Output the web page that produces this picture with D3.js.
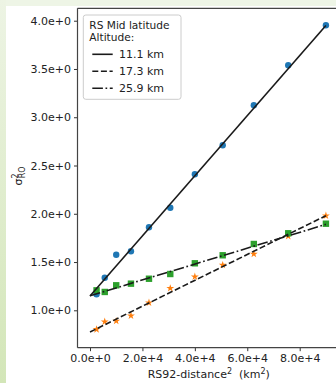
<!DOCTYPE html>
<html><head><meta charset="utf-8">
<script src="https://cdn.jsdelivr.net/npm/d3@7"></script>
<style>body{margin:0;padding:0;overflow:hidden;background:#fff}svg{display:block}text{font-family:"DejaVu Sans",sans-serif}</style>
</head><body>
<svg id="c" width="336" height="383"></svg>
<script>
// data
const distSq = [2500, 5625, 10000, 15625, 22500, 30625, 40000, 50625, 62500, 75625, 90000];
const alt111 = [1.166, 1.338, 1.576, 1.611, 1.860, 2.063, 2.409, 2.710, 3.124, 3.539, 3.953];
const alt173 = [0.803, 0.882, 0.889, 0.944, 1.079, 1.228, 1.348, 1.469, 1.583, 1.767, 1.980];
const alt259 = [1.207, 1.190, 1.259, 1.276, 1.327, 1.376, 1.487, 1.570, 1.687, 1.798, 1.897];
const fitX = [0, 90000];
const fit111 = [1.148, 3.950];
const fit173 = [0.775, 1.980];
const fit259 = [1.150, 1.890];
const xTicks = [0, 20000, 40000, 60000, 80000];
const xTickLabels = ["0.0e+0", "2.0e+4", "4.0e+4", "6.0e+4", "8.0e+4"];
const yTicks = [1.0, 1.5, 2.0, 2.5, 3.0, 3.5, 4.0];
const yTickLabels = ["1.0e+0", "1.5e+0", "2.0e+0", "2.5e+0", "3.0e+0", "3.5e+0", "4.0e+0"];
const legendTitle = ["RS Mid latitude", "Altitude:"];
const legendLabels = ["11.1 km", "17.3 km", "25.9 km"];

const svg = d3.select("#c");
// figure background
const defs = svg.append("defs");
const g1 = defs.append("linearGradient").attr("id","lg").attr("x1",0).attr("y1",0).attr("x2",0).attr("y2",1);
g1.append("stop").attr("offset","0").attr("stop-color","#edf4e4");
g1.append("stop").attr("offset","1").attr("stop-color","#d3e6b8");
svg.append("rect").attr("x",0).attr("y",0).attr("width",336).attr("height",383).attr("fill","#eef5e6");
svg.append("rect").attr("x",0).attr("y",0).attr("width",6).attr("height",383).attr("fill","url(#lg)");
svg.append("rect").attr("x",6).attr("y",6).attr("width",330).attr("height",377).attr("fill","#ffffff");

const L = 77.5, T = 8.3, B = 347.7, R = 340;
const x = d3.scaleLinear().domain([-4769, 95374]).range([L, R]);
const y = d3.scaleLinear().domain([0.6126, 4.1285]).range([B, T]);

// axes
const xAxis = d3.axisBottom(x).tickValues(xTicks).tickFormat((d,i)=>xTickLabels[i]).tickSize(3.5).tickPadding(3);
const yAxis = d3.axisLeft(y).tickValues(yTicks).tickFormat((d,i)=>yTickLabels[i]).tickSize(3.5).tickPadding(3);
const gx = svg.append("g").attr("transform",`translate(0,${B})`).call(xAxis);
const gy = svg.append("g").attr("transform",`translate(${L},0)`).call(yAxis);
[gx,gy].forEach(g=>{
  g.select(".domain").remove();
  g.selectAll(".tick line").attr("stroke","#333").attr("stroke-width",1);
  g.selectAll(".tick text").attr("fill","#222").style("font-size","11px").style("font-family","DejaVu Sans");
});
// spines
svg.append("line").attr("x1",L).attr("x2",L).attr("y1",T).attr("y2",B).attr("stroke","#444").attr("stroke-width",1.2);
svg.append("line").attr("x1",L).attr("x2",R).attr("y1",B).attr("y2",B).attr("stroke","#444").attr("stroke-width",1.2);
svg.append("line").attr("x1",L).attr("x2",R).attr("y1",T).attr("y2",T).attr("stroke","#444").attr("stroke-width",1.2);

// markers
const plot = svg.append("g");
plot.selectAll("circle.b").data(distSq).join("circle").attr("class","b")
  .attr("cx",d=>x(d)).attr("cy",(d,i)=>y(alt111[i])).attr("r",3.2).attr("fill","#1f77b4");
plot.selectAll("path.o").data(distSq).join("path").attr("class","o")
  .attr("d",d3.symbol(d3.symbolStar, 19)).attr("transform",(d,i)=>`translate(${x(d)},${y(alt173[i])})`).attr("fill","#ff7f0e");
plot.selectAll("rect.g").data(distSq).join("rect").attr("class","g")
  .attr("x",d=>x(d)-3.2).attr("y",(d,i)=>y(alt259[i])-3.2).attr("width",6.4).attr("height",6.4).attr("fill","#2ca02c");

// fit lines
const line = d3.line().x((d)=>x(d[0])).y(d=>y(d[1]));
const fits = [
  {v: fit111, dash: null},
  {v: fit173, dash: "6,2.6"},
  {v: fit259, dash: "10.6,2.6,1.7,2.6"}
];
fits.forEach(f=>{
  plot.append("path").attr("d", line(fitX.map((xx,i)=>[xx,f.v[i]])))
    .attr("fill","none").attr("stroke","#1a1a1a").attr("stroke-width",1.6)
    .attr("stroke-dasharray", f.dash);
});

// legend
const lg = svg.append("g");
lg.append("rect").attr("x",83.3).attr("y",15).attr("width",97.7).attr("height",84.3).attr("rx",2.5)
  .attr("fill","#fff").attr("fill-opacity",0.85).attr("stroke","#cccccc").attr("stroke-width",1);
legendTitle.forEach((t,i)=>{
  lg.append("text").attr("x",89.3).attr("y",24.8+i*12).attr("dy","0.36em").style("font-size","10.6px").attr("fill","#222").text(t);
});
const ly = [54.3, 71.2, 88.3];
legendLabels.forEach((t,i)=>{
  lg.append("line").attr("x1",92.3).attr("x2",112.7).attr("y1",ly[i]).attr("y2",ly[i])
    .attr("stroke","#1a1a1a").attr("stroke-width",1.6).attr("stroke-dasharray",fits[i].dash);
  lg.append("text").attr("x",119).attr("y",ly[i]).attr("dy","0.36em").style("font-size","11px").attr("fill","#222").text(t);
});

// axis labels
const xl = svg.append("text").attr("x",(L+R)/2).attr("y",378).attr("text-anchor","middle").style("font-size","11px").attr("fill","#222");
xl.append("tspan").text("RS92-distance");
xl.append("tspan").attr("dy",-4).style("font-size","8px").text("2");
xl.append("tspan").attr("dy",4).text("\u00a0\u00a0(km");
xl.append("tspan").attr("dy",-4).style("font-size","8px").text("2");
xl.append("tspan").attr("dy",4).text(")");

const yl = svg.append("text").attr("transform","translate(22,176) rotate(-90)").attr("text-anchor","middle").style("font-size","11px").attr("fill","#222");
yl.append("tspan").text("σ");
yl.append("tspan").attr("dy",-4.5).style("font-size","8px").text("2");
yl.append("tspan").attr("dx",-4.8).attr("dy",7.5).style("font-size","8px").text("RO");
</script>
</body></html>
